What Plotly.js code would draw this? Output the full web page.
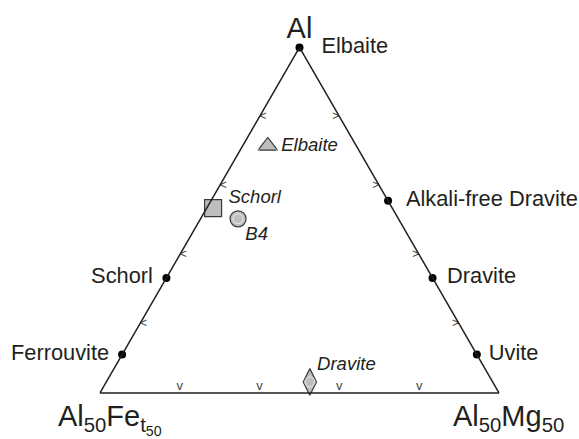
<!DOCTYPE html>
<html>
<head>
<meta charset="utf-8">
<script src="https://cdn.plot.ly/plotly-3.0.1.min.js"></script>
<style>
  html, body { margin: 0; padding: 0; background: #fff; }
  #ternary-plot { width: 579px; height: 439px; }
</style>
</head>
<body>
<div id="ternary-plot"></div>
<script>
// End-members on the edges: fractions of Al, Al50Fe50 and Al50Mg50
var endNames = ["Elbaite", "Alkali-free Dravite", "Dravite", "Uvite", "Schorl", "Ferrouvite"];
var endAl = [1, 0.556, 0.333, 0.111, 0.333, 0.111];
var endFe = [0, 0, 0, 0, 0.667, 0.889];
var endMg = [0, 0.444, 0.667, 0.889, 0, 0];

// Samples inside the triangle
var sampleNames = ["Elbaite", "Schorl", "B4", "Dravite"];
var sampleAl = [0.715, 0.535, 0.504, 0.032];
var sampleFe = [0.222, 0.449, 0.402, 0.458];
var sampleMg = [0.063, 0.016, 0.094, 0.510];

// Tick marks along each edge
var tickVals = [0.2, 0.4, 0.6, 0.8];

var ink = "#231f20";
var family = "Liberation Sans, Arial, sans-serif";
var labelFont = {family: family, size: 21.8, color: ink};
var italicFont = {family: family, size: 18.5, color: ink, style: "italic"};
var tickFont = {family: family, size: 12, color: "#444"};
var zeros = tickVals.map(v => 0);
var rest = tickVals.map(v => 1 - v);

// chevron ticks on the three edges
var leftTicks = {
  type: "scatterternary", mode: "text", cliponaxis: false, hoverinfo: "skip",
  a: tickVals, b: rest, c: zeros,
  text: tickVals.map(v => "<"), textposition: "middle right", textfont: tickFont
};
var rightTicks = {
  type: "scatterternary", mode: "text", cliponaxis: false, hoverinfo: "skip",
  a: tickVals, b: zeros, c: rest,
  text: tickVals.map(v => ">"), textposition: "middle left", textfont: tickFont
};
var bottomTicks = {
  type: "scatterternary", mode: "text", cliponaxis: false, hoverinfo: "skip",
  a: zeros, b: rest, c: tickVals,
  text: tickVals.map(v => "v"), textposition: "top center",
  textfont: {family: family, size: 13, color: "#444"}
};

// end-member dots and their labels
var endDots = {
  type: "scatterternary", mode: "markers", cliponaxis: false, hoverinfo: "skip",
  a: endAl, b: endFe, c: endMg,
  marker: {size: 8, color: "#000", opacity: 1}
};
var endLabels = {
  type: "scatterternary", mode: "markers+text", cliponaxis: false, hoverinfo: "skip",
  a: endAl, b: endFe, c: endMg,
  text: endNames,
  textposition: ["middle right", "middle right", "middle right", "middle right", "middle left", "middle left"],
  textfont: labelFont,
  marker: {size: [33.6, 27, 21.6, 17.6, 20, 19.2], color: "rgba(0,0,0,0)"}
};

// sample symbols and italic labels
var samples = {
  type: "scatterternary", mode: "markers", cliponaxis: false, hoverinfo: "skip",
  a: sampleAl, b: sampleFe, c: sampleMg,
  marker: {
    symbol: ["triangle-up", "square", "circle", "diamond-tall"],
    size: [17, 17, 16, 19],
    color: "#bcbec0",
    opacity: 1,
    line: {color: "#3a3a3c", width: 1.2}
  }
};
var sampleLabels = {
  type: "scatterternary", mode: "markers+text", cliponaxis: false, hoverinfo: "skip",
  a: sampleAl, b: sampleFe, c: sampleMg,
  text: ["Elbaite", "\u00a0\u00a0\u00a0Schorl", "B4", "Dravite"],
  textposition: ["middle right", "top right", "bottom right", "top right"],
  textfont: italicFont,
  marker: {size: [20, 0, 10, 10], color: "rgba(0,0,0,0)"}
};

var data = [leftTicks, rightTicks, bottomTicks, endDots, endLabels, samples, sampleLabels];

var titleFont = {family: family, size: 29, color: ink};

function edgeAxis(title) {
  return {
    title: {text: title, font: titleFont},
    min: 0,
    showticklabels: false,
    showgrid: false,
    ticks: "",
    linecolor: ink,
    linewidth: 1.5
  };
}

var layout = {
  width: 579,
  height: 439,
  margin: {l: 0, r: 0, t: 0, b: 0},
  paper_bgcolor: "#fff",
  showlegend: false,
  hovermode: false,
  ternary: {
    sum: 1,
    bgcolor: "#fff",
    domain: {x: [0.1727, 0.8618], y: [0.1048, 0.892]},
    aaxis: edgeAxis("Al"),
    baxis: edgeAxis(""),
    caxis: edgeAxis("")
  },
  // corner names of the two lower apices
  annotations: [
    {xref: "paper", yref: "paper", x: 0.19, y: 0.094, xanchor: "center", yanchor: "top",
     showarrow: false, font: titleFont, text: "Al<sub>50</sub>Fe<sub>t<sub>50</sub></sub>"},
    {xref: "paper", yref: "paper", x: 0.879, y: 0.094, xanchor: "center", yanchor: "top",
     showarrow: false, font: titleFont, text: "Al<sub>50</sub>Mg<sub>50</sub>"}
  ]
};

Plotly.newPlot("ternary-plot", data, layout, {staticPlot: true});
</script>
</body>
</html>
